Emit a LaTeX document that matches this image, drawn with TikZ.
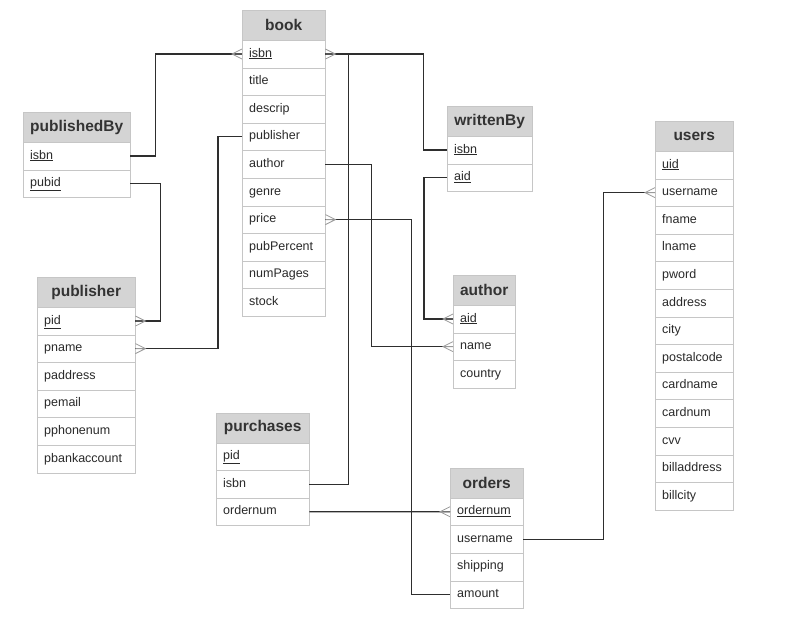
\documentclass[tikz,border=0pt]{standalone}
\usepackage{fontspec}
\setmainfont{Liberation Sans}
\usetikzlibrary{positioning}
\definecolor{headgray}{HTML}{D4D4D4}
\definecolor{rowline}{HTML}{C6C6C6}
\definecolor{headtext}{HTML}{333333}
\definecolor{txt}{HTML}{2A2A2A}
\definecolor{linecol}{HTML}{2E2E2E}
\definecolor{footgray}{HTML}{9A9A9A}
\newcommand{\key}[1]{\underline{#1}}
\newcommand{\manyleft}[1]{\draw[foot] (#1.west) ++(0,-5) -- ++(-10,5) -- ++(10,5) (#1.west) -- ++(-10,0);}
\newcommand{\manyright}[1]{\draw[foot] (#1.east) ++(0,-5) -- ++(10,5) -- ++(-10,5) (#1.east) -- ++(10,0);}

\begin{document}
\begin{tikzpicture}[x=1pt,y=-1pt,
head/.style={draw=rowline,fill=headgray,anchor=north west,minimum width=#1,minimum height=30pt,inner sep=0pt,text=headtext,font=\fontsize{15.5}{18}\selectfont\bfseries},
field/.style={draw=rowline,fill=white,anchor=north west,text width=#1,inner xsep=7pt,inner ysep=0pt,minimum height=27.6pt,text height=9pt,text depth=3pt,align=left,text=txt,font=\fontsize{12.5}{15}\selectfont},
link/.style={draw=linecol,line width=1.1pt},
foot/.style={draw=footgray,line width=0.8pt}]

\useasboundingbox (0,0) rectangle (792,641);

% tables
\node[head=83pt] (bk) at (242,10) {book};
\foreach \f/\t [count=\i] in {isbn/\key{isbn},title/title,descrip/descrip,publisher/publisher,author/author,genre/genre,price/price,pubPercent/pubPercent,numPages/numPages,stock/stock}
\node[field=69pt] (bk-\f) at (242,{40+27.6*(\i-1)}) {\t};

\node[head=107pt] (pb) at (23,112) {publishedBy};
\foreach \f/\t [count=\i] in {isbn/\key{isbn},pubid/\key{pubid}}
\node[field=93pt] (pb-\f) at (23,{142+27.6*(\i-1)}) {\t};

\node[head=98pt] (pr) at (37,277) {publisher};
\foreach \f/\t [count=\i] in {pid/\key{pid},pname/pname,paddress/paddress,pemail/pemail,pphonenum/pphonenum,pbankaccount/pbankaccount}
\node[field=84pt] (pr-\f) at (37,{307+27.6*(\i-1)}) {\t};

\node[head=85pt] (wb) at (447,106) {writtenBy};
\foreach \f/\t [count=\i] in {isbn/\key{isbn},aid/\key{aid}}
\node[field=71pt] (wb-\f) at (447,{136+27.6*(\i-1)}) {\t};

\node[head=78pt] (us) at (655,121) {users};
\foreach \f/\t [count=\i] in {uid/\key{uid},username/username,fname/fname,lname/lname,pword/pword,address/address,city/city,postalcode/postalcode,cardname/cardname,cardnum/cardnum,cvv/cvv,billaddress/billaddress,billcity/billcity}
\node[field=64pt] (us-\f) at (655,{151+27.6*(\i-1)}) {\t};

\node[head=62pt] (au) at (453,275) {author};
\foreach \f/\t [count=\i] in {aid/\key{aid},name/name,country/country}
\node[field=48pt] (au-\f) at (453,{305+27.6*(\i-1)}) {\t};

\node[head=93pt] (pu) at (216,412.5) {purchases};
\foreach \f/\t [count=\i] in {pid/\key{pid},isbn/isbn,ordernum/ordernum}
\node[field=79pt] (pu-\f) at (216,{442.5+27.6*(\i-1)}) {\t};

\node[head=73pt] (or) at (450,467.7) {orders};
\foreach \f/\t [count=\i] in {ordernum/\key{ordernum},username/username,shipping/shipping,amount/amount}
\node[field=59pt] (or-\f) at (450,{497.7+27.6*(\i-1)}) {\t};

% relationships
\draw[link] (pb-isbn.east) -- ++(25,0) |- (bk-isbn.west);
\draw[link] (bk-isbn.east) -- ++(98,0) |- (wb-isbn.west);
\draw[link] (pu-isbn.east) -- ++(39,0) |- (bk-isbn.east);
\draw[link] (pb-pubid.east) -- ++(30,0) |- (pr-pid.east);
\draw[link] (bk-publisher.west) -- ++(-24,0) |- (pr-pname.east);
\draw[link] (bk-author.east) -- ++(46,0) |- (au-name.west);
\draw[link] (wb-aid.west) -- ++(-23,0) |- (au-aid.west);
\draw[link] (bk-price.east) -- ++(86,0) |- (or-amount.west);
\draw[link] (pu-ordernum.east) -- (or-ordernum.west);
\draw[link] (or-username.east) -- ++(80,0) |- (us-username.west);

% crow's feet
\manyleft{bk-isbn}
\manyright{bk-isbn}
\manyright{pr-pid}
\manyright{pr-pname}
\manyleft{au-aid}
\manyleft{au-name}
\manyright{bk-price}
\manyleft{or-ordernum}
\manyleft{us-username}
\end{tikzpicture}
\end{document}
